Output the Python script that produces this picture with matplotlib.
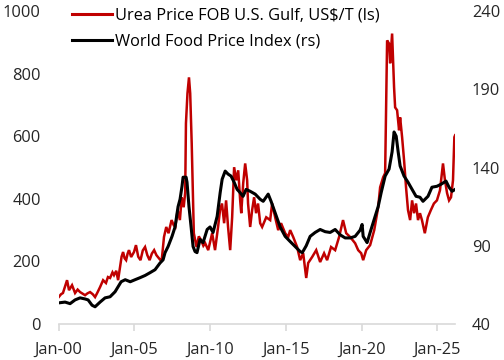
import matplotlib
matplotlib.use("Agg")
import matplotlib.pyplot as plt
from matplotlib.lines import Line2D

plt.rcParams['font.family'] = ['Open Sans', 'DejaVu Sans']

# Urea Price FOB U.S. Gulf, US$/T (left scale)
urea_year = [2000.00, 2000.15, 2000.28, 2000.45, 2000.55, 2000.68, 2000.88, 2001.08, 2001.25, 2001.41,
             2001.60, 2001.74, 2001.90, 2002.07, 2002.25, 2002.40, 2002.55, 2002.73, 2002.93, 2003.12,
             2003.25, 2003.39, 2003.55, 2003.65, 2003.80, 2003.92, 2004.05, 2004.15, 2004.25, 2004.35,
             2004.45, 2004.55, 2004.64, 2004.78, 2004.97, 2005.10, 2005.25, 2005.40, 2005.55, 2005.70,
             2005.85, 2006.00, 2006.15, 2006.30, 2006.45, 2006.55, 2006.70, 2006.80, 2006.95, 2007.10,
             2007.25, 2007.45, 2007.60, 2007.70, 2007.85, 2008.00, 2008.12, 2008.25, 2008.35, 2008.40,
             2008.50, 2008.60, 2008.68, 2008.78, 2008.92, 2009.10, 2009.25, 2009.40, 2009.55, 2009.67,
             2009.87, 2010.13, 2010.32, 2010.52, 2010.65, 2010.78, 2010.92, 2011.05, 2011.18, 2011.32,
             2011.45, 2011.58, 2011.72, 2011.85, 2011.98, 2012.05, 2012.18, 2012.31, 2012.44, 2012.50,
             2012.64, 2012.77, 2012.90, 2013.03, 2013.16, 2013.30, 2013.43, 2013.70, 2013.96, 2014.09,
             2014.29, 2014.49, 2014.68, 2014.95, 2015.15, 2015.28, 2015.48, 2015.74, 2015.94, 2016.14,
             2016.34, 2016.47, 2016.73, 2017.00, 2017.26, 2017.52, 2017.72, 2017.98, 2018.25, 2018.51,
             2018.77, 2018.98, 2019.24, 2019.57, 2019.77, 2019.97, 2020.10, 2020.30, 2020.56, 2020.83,
             2021.09, 2021.22, 2021.42, 2021.55, 2021.68, 2021.81, 2021.88, 2022.01, 2022.14, 2022.21,
             2022.34, 2022.47, 2022.54, 2022.67, 2022.80, 2022.93, 2023.06, 2023.20, 2023.33, 2023.46,
             2023.59, 2023.72, 2023.85, 2023.98, 2024.17, 2024.37, 2024.57, 2024.77, 2024.97, 2025.17,
             2025.37, 2025.50, 2025.64, 2025.77, 2025.90, 2026.03, 2026.12, 2026.17]
urea_price = [86, 95, 99, 125, 140, 108, 124, 99, 110, 102,
              96, 92, 98, 102, 95, 86, 100, 118, 140, 131,
              150, 147, 165, 156, 170, 140, 182, 215, 230, 210,
              204, 225, 236, 214, 230, 252, 215, 204, 235, 246,
              220, 204, 225, 236, 220, 214, 205, 204, 278, 310,
              290, 332, 315, 310, 364, 332, 405, 373, 420, 641,
              737, 788, 737, 577, 290, 246, 280, 268, 250, 258,
              236, 290, 236, 310, 364, 385, 322, 395, 310, 236,
              341, 501, 459, 491, 395, 354, 450, 513, 459, 385,
              310, 364, 405, 354, 385, 322, 310, 341, 332, 385,
              341, 300, 322, 290, 278, 300, 278, 246, 204, 226,
              147, 195, 214, 236, 198, 226, 204, 246, 236, 278,
              332, 290, 278, 258, 236, 226, 204, 236, 252, 300,
              373, 437, 469, 482, 906, 896, 833, 928, 756, 692,
              683, 619, 660, 597, 523, 437, 364, 332, 395, 354,
              385, 332, 354, 332, 290, 341, 364, 385, 395, 427,
              513, 459, 418, 395, 405, 459, 597, 603]

# World Food Price Index (right scale)
ffpi_year = [2000.00, 2000.42, 2000.75, 2001.08, 2001.41, 2001.74, 2001.94, 2002.20, 2002.40, 2002.73,
             2003.06, 2003.39, 2003.72, 2003.92, 2004.12, 2004.39, 2004.72, 2005.04, 2005.37, 2005.70,
             2006.03, 2006.36, 2006.69, 2006.89, 2007.02, 2007.22, 2007.48, 2007.68, 2007.88, 2008.01,
             2008.14, 2008.21, 2008.41, 2008.47, 2008.60, 2008.74, 2008.87, 2009.00, 2009.13, 2009.33,
             2009.53, 2009.80, 2009.99, 2010.19, 2010.46, 2010.66, 2010.79, 2010.99, 2011.18, 2011.38,
             2011.58, 2011.78, 2011.97, 2012.17, 2012.37, 2012.64, 2012.97, 2013.30, 2013.50, 2013.83,
             2014.02, 2014.29, 2014.62, 2014.95, 2015.28, 2015.61, 2015.94, 2016.08, 2016.34, 2016.60,
             2016.93, 2017.26, 2017.59, 2017.92, 2018.25, 2018.58, 2018.91, 2019.24, 2019.57, 2019.90,
             2020.03, 2020.10, 2020.23, 2020.36, 2020.56, 2020.89, 2021.09, 2021.29, 2021.55, 2021.81,
             2022.01, 2022.14, 2022.28, 2022.41, 2022.54, 2022.80, 2023.06, 2023.33, 2023.59, 2023.85,
             2024.05, 2024.38, 2024.64, 2024.97, 2025.24, 2025.57, 2025.77, 2025.97, 2026.17]
ffpi_index = [53.5, 54.0, 53.0, 55.4, 56.7, 56.0, 55.4, 52.0, 51.0, 54.0,
              56.7, 57.4, 60.6, 63.8, 67.0, 68.3, 67.0, 68.3, 69.6, 71.0,
              72.8, 74.7, 79.0, 81.0, 85.6, 89.5, 96.0, 102.0, 115.0, 119.7,
              128.0, 133.8, 133.8, 130.6, 115.0, 102.0, 89.5, 86.3, 85.6, 94.0,
              92.0, 100.4, 102.0, 98.5, 108.8, 124.0, 132.5, 137.7, 135.8, 134.5,
              130.6, 126.0, 124.0, 121.6, 126.0, 124.8, 123.0, 119.7, 118.4, 123.0,
              118.4, 111.0, 102.0, 96.0, 92.7, 89.5, 86.3, 85.6, 90.0, 96.0,
              98.5, 100.4, 99.0, 98.5, 100.4, 97.0, 95.0, 95.0, 96.0, 100.0,
              103.6, 96.0, 94.0, 92.0, 98.5, 108.8, 115.0, 124.0, 134.5, 139.0,
              150.0, 162.7, 160.0, 150.0, 141.0, 134.5, 130.6, 126.0, 121.6, 121.0,
              118.4, 121.6, 127.4, 128.0, 129.3, 131.3, 127.4, 124.8, 126.0]

xtick_years = [2000, 2005, 2010, 2015, 2020, 2025]
xtick_labels = ['Jan-00', 'Jan-05', 'Jan-10', 'Jan-15', 'Jan-20', 'Jan-25']
left_ticks = [0, 200, 400, 600, 800, 1000]
right_ticks = [40, 90, 140, 190, 240]

RED = '#C00000'
GRID = '#D9D9D9'
FS = 11.8

fig = plt.figure(figsize=(5.04, 3.60), dpi=100)
ax = fig.add_axes([0.1165, 0.10, 0.7865, 0.8694])
ax2 = ax.twinx()

ax.plot(urea_year, urea_price, color=RED, lw=1.8, solid_joinstyle='miter')
ax2.plot(ffpi_year, ffpi_index, color='black', lw=2.2)

ax.set_xlim(2000, 2026.17)
ax.set_ylim(0, 1000)
ax2.set_ylim(40, 240)

ax.set_yticks(left_ticks)
ax2.set_yticks(right_ticks)
ax.set_xticks(xtick_years)
ax.set_xticklabels(xtick_labels)

for a in (ax, ax2):
    for s in ('top', 'left', 'right'):
        a.spines[s].set_visible(False)
    a.spines['bottom'].set_color(GRID)
    a.spines['bottom'].set_linewidth(1.2)
ax2.spines['bottom'].set_visible(False)

ax.tick_params(axis='y', length=0, pad=13, labelsize=FS, colors='#262626')
ax2.tick_params(axis='y', length=0, pad=12, labelsize=FS, colors='#262626')
ax.tick_params(axis='x', length=5, width=1.2, color=GRID, pad=8, labelsize=FS,
               labelcolor='#262626')

handles = [Line2D([], [], color=RED, lw=2.2),
           Line2D([], [], color='black', lw=2.2)]
labels = ['Urea Price FOB U.S. Gulf, US$/T (ls)', 'World Food Price Index (rs)']
fig.legend(handles, labels, loc='upper left', bbox_to_anchor=(0.137, 0.988),
           frameon=False, fontsize=FS, handlelength=2.45, handletextpad=0.15,
           labelspacing=0.62, borderaxespad=0, borderpad=0.2)

fig.savefig('out.png', dpi=100)
